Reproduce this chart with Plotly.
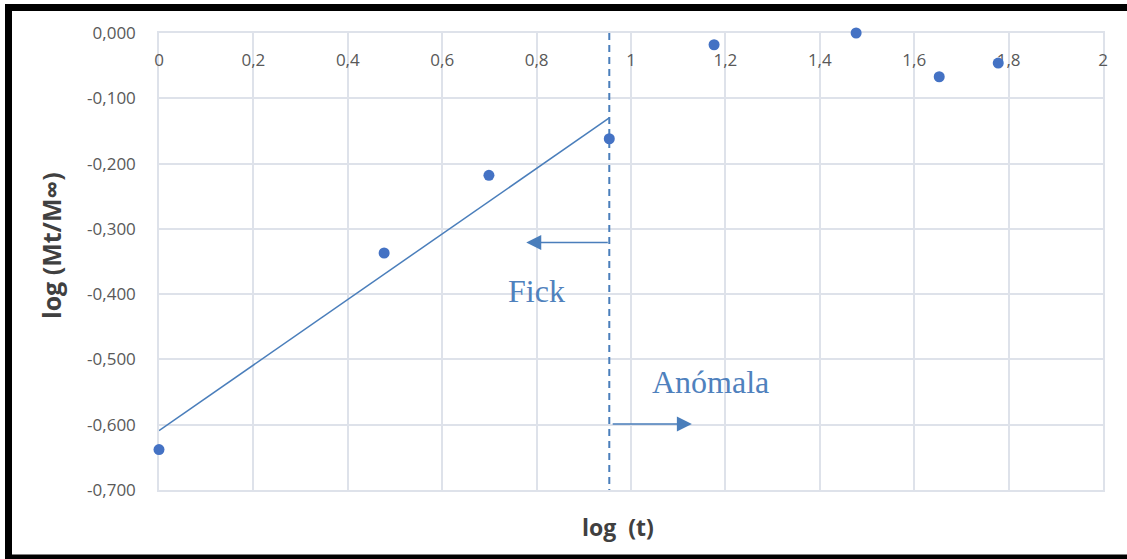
import plotly.graph_objects as go

# measured points: log(t) vs log(Mt/Minf)
log_t = [0.0, 0.477, 0.699, 0.954, 1.176, 1.477, 1.653, 1.778]
log_m = [-0.638, -0.337, -0.218, -0.162, -0.018, 0.0, -0.067, -0.046]

# linear fit over the Fickian region
fit_x = [0.0, 0.954]
fit_y = [-0.609, -0.130]

split_x = 0.954
fick_arrow = [0.954, 0.778, -0.321]      # from x, to x, y
anom_arrow = [0.958, 1.129, -0.599]

x_ticks = [0, 0.2, 0.4, 0.6, 0.8, 1, 1.2, 1.4, 1.6, 1.8, 2]
x_labels = ["0", "0,2", "0,4", "0,6", "0,8", "1", "1,2", "1,4", "1,6", "1,8", "2"]
y_ticks = [0, -0.1, -0.2, -0.3, -0.4, -0.5, -0.6, -0.7]
y_labels = ["0,000", "-0,100", "-0,200", "-0,300", "-0,400", "-0,500", "-0,600", "-0,700"]

blue = "#4472C4"
lineblue = "#4A7EBB"
grid = "#DEE2EA"

fig = go.Figure()
fig.add_trace(go.Scatter(x=fit_x, y=fit_y, mode="lines",
                         line=dict(color=lineblue, width=1.5), showlegend=False, hoverinfo="skip"))
fig.add_trace(go.Scatter(x=[split_x, split_x], y=[0, -0.7], mode="lines",
                         line=dict(color=lineblue, width=2, dash="7px,5px"), showlegend=False, hoverinfo="skip"))
fig.add_trace(go.Scatter(x=log_t, y=log_m, mode="markers", cliponaxis=False,
                         marker=dict(color=blue, size=11), showlegend=False))

for x0, x1, y in (fick_arrow, anom_arrow):
    fig.add_annotation(x=x1, y=y, ax=x0, ay=y, xref="x", yref="y", axref="x", ayref="y",
                       text="", showarrow=True, arrowhead=2, arrowsize=2, arrowwidth=1.5,
                       arrowcolor=lineblue)

fig.add_annotation(x=0.80, y=-0.395, text="Fick", showarrow=False,
                   font=dict(family="Liberation Serif", size=32, color="#4F81BD"))
fig.add_annotation(x=1.169, y=-0.534, text="Anómala", showarrow=False,
                   font=dict(family="Liberation Serif", size=32, color="#4F81BD"))

# black frame, coordinates in screen pixels
def px_x(p):
    return (p - 159) / 944

def px_y(p):
    return (490 - p) / 457

# axis titles
fig.add_annotation(xref="paper", yref="paper", x=px_x(618), y=px_y(527),
                   xanchor="center", yanchor="middle",
                   text="<b>log  (t)</b>", showarrow=False,
                   font=dict(family="Open Sans", size=23, color="#404040"))
fig.add_annotation(xref="paper", yref="paper", x=px_x(51), y=px_y(246),
                   xanchor="center", yanchor="middle",
                   text="<b>log (Mt/M∞)</b>", showarrow=False, textangle=-90,
                   font=dict(family="Open Sans", size=25, color="#404040"))

frame = [(5, 7.5, 1127, 7.5, 7), (8.5, 4, 8.5, 559, 7), (5, 557, 1127, 557, 5)]
for x0, y0, x1, y1, w in frame:
    fig.add_shape(type="line", xref="paper", yref="paper",
                  x0=px_x(x0), y0=px_y(y0), x1=px_x(x1), y1=px_y(y1),
                  line=dict(color="black", width=w))

fig.update_layout(
    width=1127, height=559,
    margin=dict(l=159, r=24, t=33, b=69),
    paper_bgcolor="white", plot_bgcolor="white",
    font=dict(family="Open Sans", color="#595959", size=17),
    xaxis=dict(range=[0, 2], tickvals=x_ticks, ticktext=x_labels, side="top",
               ticklabelposition="inside", ticklabeloverflow="allow",
               ticks="inside", ticklen=22, tickcolor="rgba(0,0,0,0)",
               showgrid=True, gridcolor=grid, gridwidth=1.5, zeroline=False,
               showline=True, linecolor=grid, linewidth=1.5, mirror=True,
               layer="below traces", tickfont=dict(size=17, color="#595959")),
    yaxis=dict(range=[-0.7, 0], tickvals=y_ticks, ticktext=y_labels,
               ticks="outside", ticklen=18, tickcolor="rgba(0,0,0,0)",
               showgrid=True, gridcolor=grid, gridwidth=1.5, zeroline=False,
               showline=True, linecolor=grid, linewidth=1.5, mirror=True,
               layer="below traces", tickfont=dict(size=17, color="#595959")),
)

fig.write_html("out.html", config={"displayModeBar": False},
               post_script="document.body.style.margin='0px';")
